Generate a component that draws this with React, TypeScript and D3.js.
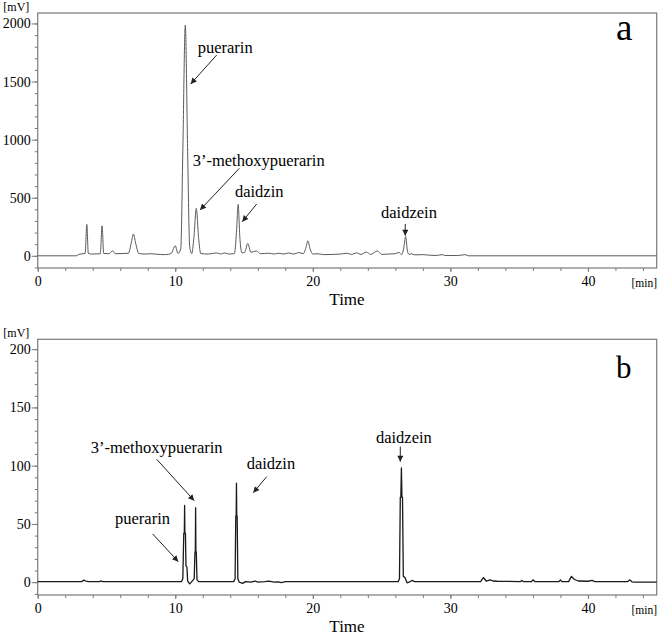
import React, { useRef, useEffect } from 'react'
import * as d3 from 'd3'

// chromatogram a: [time (min), signal (mV)]
const traceA: [number, number][] = [
  [0, 0], [2.8, 0], [3.0, 12], [3.3, 18], [3.45, 20], [3.57, 270], [3.68, 20], [4.0, 15],
  [4.55, 18], [4.68, 258], [4.8, 20], [5.2, 18], [5.43, 43], [5.65, 18], [6.2, 20], [6.6, 22],
  [6.8, 110], [6.96, 187], [7.12, 110], [7.35, 20], [7.8, 15], [8.2, 18], [8.5, 15], [9.3, 10],
  [9.7, 20], [10.0, 86], [10.2, 20], [10.4, 60], [10.55, 900], [10.73, 1985], [10.9, 900],
  [11.05, 80], [11.2, 18], [11.35, 150], [11.53, 408], [11.7, 150], [11.85, 20], [12.4, 15],
  [13.0, 25], [13.3, 15], [13.6, 25], [13.9, 15], [14.3, 20], [14.45, 200], [14.57, 442],
  [14.7, 150], [14.85, 25], [15.05, 30], [15.27, 107], [15.5, 30], [15.9, 42], [16.2, 18],
  [16.8, 22], [17.2, 15], [17.5, 22], [17.9, 15], [18.25, 25], [18.6, 15], [19.0, 28], [19.3, 18],
  [19.5, 70], [19.64, 130], [19.8, 60], [20.0, 15], [20.3, 18], [20.8, 10], [21.5, 12],
  [22.0, 15], [22.5, 22], [22.8, 12], [23.2, 25], [23.5, 12], [23.9, 32], [24.2, 12],
  [24.7, 42], [25.0, 12], [25.5, 15], [26.0, 18], [26.26, 30], [26.45, 10], [26.6, 60],
  [26.75, 165], [26.88, 40], [27.0, 12], [27.15, 18], [27.4, 8], [28.0, 10], [28.5, 5],
  [29.0, 3], [29.4, 10], [29.6, 3], [30.5, 2], [31.1, 10], [31.3, 0], [45, 0]
]

// chromatogram b: [time (min), signal (mV)]
const traceB: [number, number][] = [
  [0, 0.5], [3.2, 0.5], [3.35, 1.8], [3.5, 1], [3.7, 0.5], [4.5, 0.5], [4.6, 1.2], [4.7, 0.5],
  [10.45, 0.5], [10.55, 3], [10.62, 42], [10.66, 42], [10.68, 66], [10.7, 42], [10.74, 42],
  [10.78, 14], [10.85, 13], [10.9, 1], [11.05, -1.5], [11.2, 0.5], [11.38, 3], [11.43, 26],
  [11.46, 26], [11.48, 64], [11.5, 26], [11.53, 26], [11.58, 2], [11.7, 0.5], [14.25, 0.5],
  [14.35, 3], [14.4, 57], [14.43, 57], [14.45, 85], [14.47, 57], [14.5, 57], [14.55, 3],
  [14.65, 0], [14.9, -1], [15.1, 0.5], [15.5, 0], [15.8, 1], [16.0, 0], [16.5, 0.5], [16.8, 1],
  [17.2, 0], [17.5, 0.3], [17.7, -0.3], [18, 0.5], [26.2, 0.5], [26.3, 3], [26.36, 73],
  [26.4, 73], [26.44, 98], [26.48, 73], [26.52, 73], [26.58, 5], [26.7, 4], [26.85, -0.5],
  [27.0, 0], [27.2, 1.5], [27.4, 0.5], [32.2, 0.5], [32.4, 4], [32.6, 1], [32.9, 2], [33.1, 1],
  [33.4, 0.8], [35.1, 0.5], [35.2, 1.5], [35.3, 0.5], [35.9, 0.5], [36.0, 2], [36.15, 0.5],
  [37.9, 0.5], [38.0, 2], [38.1, 0.5], [38.6, 0.5], [38.8, 5], [39.0, 2.5], [39.3, 1],
  [40.0, 0.8], [40.3, 1.5], [40.5, 0.5], [42.9, 0.5], [43.05, 2], [43.2, 0.3], [43.4, 0], [45, 0]
]

const timeTicks = [0, 10, 20, 30, 40]
const aTicks = [0, 500, 1000, 1500, 2000]
const bTicks = [0, 50, 100, 150, 200]

// labels: text anchor and arrow [from, to], all in data units
const aLabels = [
  { text: 'puerarin', at: [11.63, 1746], arrow: [[13.01, 1728], [11.12, 1479]] },
  { text: '3\u2019-methoxypuerarin', at: [11.27, 773], arrow: [[14.66, 753], [11.8, 394]] },
  { text: 'daidzin', at: [14.34, 509], arrow: [[15.92, 446], [14.87, 294]] },
  { text: 'daidzein', at: [24.96, 323], arrow: [[26.72, 274], [26.72, 173]] }
]
const bLabels = [
  { text: '3\u2019-methoxypuerarin', at: [3.85, 111.2], arrow: [[8.65, 105.5], [11.38, 70]] },
  { text: 'puerarin', at: [5.62, 49.7], arrow: [[8.36, 41.4], [10.22, 17.6]] },
  { text: 'daidzin', at: [15.19, 96.9], arrow: [[16.65, 90.6], [15.67, 76.8]] },
  { text: 'daidzein', at: [24.59, 119.2], arrow: [[26.36, 116.3], [26.36, 103.4]] }
]

const serif = "'Liberation Serif', serif"
const axisColor = '#7a7a7a'

const Panel = ({ id, top, bottom, yDomain, yTicks, yMinorStep, trace, labels, letter, letterSize, lineColor, lineWidth, smooth }) => {
  const ref = useRef(null)

  useEffect(() => {
    const left = 37.7
    const right = 656.7
    const g = d3.select(ref.current)
    g.selectAll('*').remove()

    const x = d3.scaleLinear().domain([0, 45]).range([left, right])
    const y = d3.scaleLinear().domain(yDomain).range([bottom, top])

    // minor ticks
    const yMinor = d3.range(Math.ceil(yDomain[0] / yMinorStep) * yMinorStep, yDomain[1], yMinorStep)
    g.append('g')
      .attr('transform', `translate(${left},0)`)
      .call(d3.axisLeft(y).tickValues(yMinor).tickSize(3).tickFormat(() => ''))
    g.append('g')
      .attr('transform', `translate(0,${bottom})`)
      .call(d3.axisBottom(x).tickValues(d3.range(0, 45, 2)).tickSize(3).tickFormat(() => ''))

    // major ticks with labels
    g.append('g')
      .attr('transform', `translate(${left},0)`)
      .call(d3.axisLeft(y).tickValues(yTicks).tickSize(6).tickPadding(1).tickFormat(d3.format('d')))
    g.append('g')
      .attr('transform', `translate(0,${bottom})`)
      .call(d3.axisBottom(x).tickValues(timeTicks).tickSize(4).tickPadding(4).tickFormat(d3.format('d')))

    g.selectAll('.domain').remove()
    g.selectAll('.tick line').attr('stroke', axisColor)
    g.selectAll('g').attr('font-family', serif).attr('font-size', 14)
    g.selectAll('.tick text').attr('fill', '#000')

    // frame
    g.append('rect')
      .attr('x', left)
      .attr('y', top)
      .attr('width', right - left)
      .attr('height', bottom - top)
      .attr('fill', 'none')
      .attr('stroke', axisColor)
      .attr('stroke-width', 1.2)

    const traceLine = d3.line()
      .x(d => x(d[0]))
      .y(d => y(d[1]))
      .curve(smooth ? d3.curveMonotoneX : d3.curveLinear)

    g.append('path')
      .datum(trace)
      .attr('d', traceLine)
      .attr('fill', 'none')
      .attr('stroke', lineColor)
      .attr('stroke-width', lineWidth)
      .attr('stroke-linejoin', 'round')

    const addText = (tx, ty, size, str, anchor = 'start') =>
      g.append('text')
        .attr('x', tx)
        .attr('y', ty)
        .attr('text-anchor', anchor)
        .attr('font-family', serif)
        .attr('font-size', size)
        .attr('fill', '#000')
        .text(str)

    // annotations
    labels.forEach(l => {
      addText(x(l.at[0]), y(l.at[1]), 16.5, l.text)
      g.append('line')
        .attr('x1', x(l.arrow[0][0]))
        .attr('y1', y(l.arrow[0][1]))
        .attr('x2', x(l.arrow[1][0]))
        .attr('y2', y(l.arrow[1][1]))
        .attr('stroke', '#222')
        .attr('stroke-width', 1)
        .attr('marker-end', `url(#head-${id})`)
    })

    addText(616, letter === 'a' ? 40 : 378.3, letterSize, letter)
    addText(3.3, top - 2.5, 12, '[mV]')
    addText(631.5, bottom + 18.5, 11.5, '[min]')
    addText(347, bottom + 36.5, 17, 'Time', 'middle')
  }, [id, top, bottom, yDomain, yTicks, yMinorStep, trace, labels, letter, letterSize, lineColor, lineWidth, smooth])

  return (
    <g>
      <defs>
        <marker id={`head-${id}`} viewBox='0 0 10 10' refX='10' refY='5' markerWidth='7' markerHeight='6'
          markerUnits='userSpaceOnUse' orient='auto'>
          <path d='M0,0 L10,5 L0,10 z' fill='#222' />
        </marker>
      </defs>
      <g ref={ref} />
    </g>
  )
}

const App = () => {
  return (
    <svg width={661} height={634} fontFamily={serif} style={{ position: 'absolute', left: 0, top: 0, background: '#fff' }}>
      <rect width={661} height={634} fill='#fff' />
      <Panel id='a' top={13} bottom={268} yDomain={[-105, 2090]} yTicks={aTicks} yMinorStep={100}
        trace={traceA} labels={aLabels} letter='a' letterSize={37} lineColor='#5a5a5a' lineWidth={1} smooth />
      <Panel id='b' top={339.3} bottom={595} yDomain={[-11, 208.5]} yTicks={bTicks} yMinorStep={10}
        trace={traceB} labels={bLabels} letter='b' letterSize={31} lineColor='#1a1a1a' lineWidth={1.3} smooth={false} />
    </svg>
  )
}

export default App
